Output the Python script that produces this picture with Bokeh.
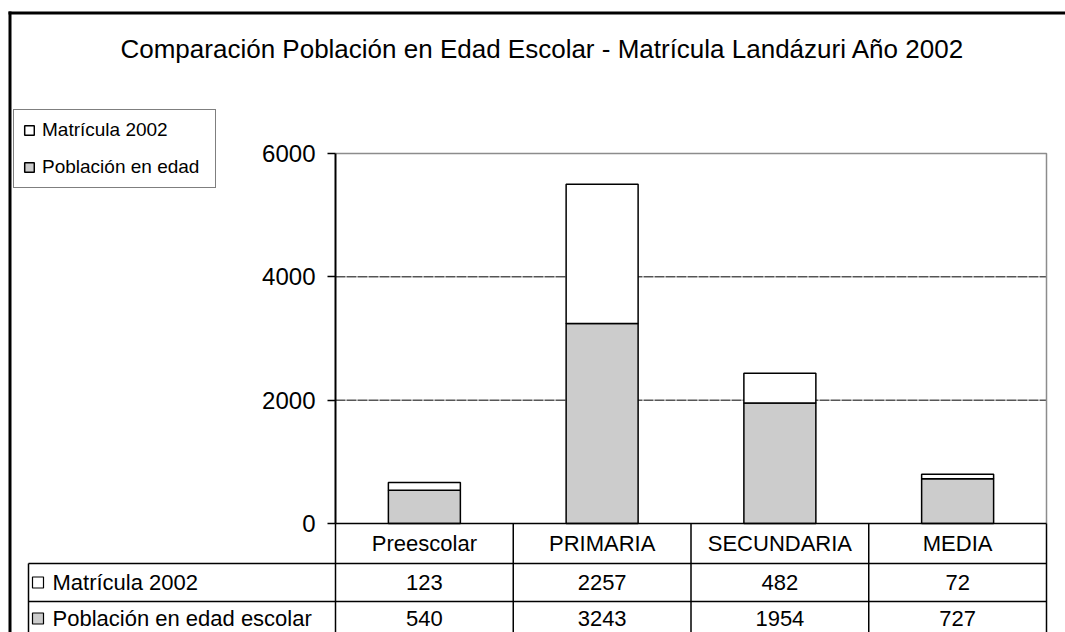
from bokeh.plotting import figure
from bokeh.models import (Range1d, LinearAxis, FixedTicker, Legend, LegendItem,
                          ColumnDataSource)
from bokeh.core.properties import value
from bokeh.embed import file_html
from bokeh.resources import INLINE

# ---------------- data ----------------
title_text = "Comparación Población en Edad Escolar - Matrícula Landázuri Año 2002"
categories = ["Preescolar", "PRIMARIA", "SECUNDARIA", "MEDIA"]
matricula = [123, 2257, 482, 72]
poblacion = [540, 3243, 1954, 727]
row_labels = ["Matrícula 2002", "Población en edad escolar"]
legend_labels = ["Matrícula 2002", "Población en edad"]
y_ticks = [0, 2000, 4000, 6000]
grid_ticks = [2000, 4000]

# ---------------- layout (page pixels) ----------------
FONT = value("Liberation Sans")
W, H = 1065, 632
PX0 = 0
FL, FR, FT, FB = 335, 1046, 153, 523   # chart plot area
ymax = 6000
ncat = len(categories)
xs = (FR - FL) / ncat
ys = (FB - FT) / ymax


def X(px):
    return (px - FL) / xs


def Y(py):
    return (FB - py) / ys


GRAY = "#CCCCCC"

p = figure(width=W, height=H,
           x_range=Range1d(X(PX0), X(PX0 + W)),
           y_range=Range1d(Y(PX0 + H), Y(PX0)),
           output_backend="svg", toolbar_location=None,
           x_axis_location=None, y_axis_location=None,
           min_border=0, title=None, outline_line_color=None,
           background_fill_color="white", border_fill_color="white")
p.grid.visible = False

# outer chart-area border (left and top visible)
p.segment(x0=[X(9.5), X(8)], x1=[X(9.5), X(PX0 + W)],
          y0=[Y(11), Y(12.5)], y1=[Y(PX0 + H), Y(12.5)],
          line_color="black", line_width=3)

# title
p.text(x=[X(542)], y=[Y(48)], text=[title_text], text_font=FONT,
       text_font_size="26px", text_align="center", text_baseline="middle",
       text_color="black")

# gridlines
p.segment(x0=[0] * len(grid_ticks), x1=[ncat] * len(grid_ticks), y0=grid_ticks, y1=grid_ticks,
          line_color="black", line_width=1, line_dash="10 1")
# plot area border (top + right, gray)
p.line(x=[0, ncat, ncat], y=[ymax, ymax, 0], line_color="#8C8C8C", line_width=1.5)

# bars
cx = [i + 0.5 for i in range(ncat)]
totals = [a + b for a, b in zip(poblacion, matricula)]
src = ColumnDataSource(dict(x=cx, cat=categories, mat=matricula, pob=poblacion, tot=totals))
r_pob = p.vbar(x="x", width=0.405, bottom=0, top="pob", source=src,
               fill_color=GRAY, line_color="black", line_width=1.5)
r_mat = p.vbar(x="x", width=0.405, bottom="pob", top="tot", source=src,
               fill_color="white", line_color="black", line_width=1.5)

# y axis
yax = LinearAxis(fixed_location=0, bounds=(0, ymax), ticker=FixedTicker(ticks=y_ticks),
                 axis_line_color="black", axis_line_width=2,
                 major_tick_line_color="black", major_tick_line_width=1.5,
                 major_tick_out=8, major_tick_in=0, minor_tick_out=0, minor_tick_in=0,
                 major_label_text_font_size="24px", major_label_text_font="Liberation Sans",
                 major_label_text_color="black", major_label_standoff=12)
p.add_layout(yax, "left")

# ---------------- data table ----------------
row_y = [Y(543), Y(582), Y(618)]
line_y1 = Y(563)
line_y2 = Y(601)
bottom = Y(PX0 + H)
tl = X(28)
hx0 = [0, tl, tl]
hx1 = [ncat, ncat, ncat]
hy = [0, line_y1, line_y2]
p.segment(x0=hx0, x1=hx1, y0=hy, y1=hy, line_color="black", line_width=1.5)
vx = list(range(ncat + 1))
p.segment(x0=vx, x1=vx, y0=[0] * len(vx), y1=[bottom] * len(vx), line_color="black", line_width=1.5)
p.segment(x0=[tl], x1=[tl], y0=[line_y1], y1=[bottom], line_color="black", line_width=1.5)

p.text(x=cx, y=[row_y[0]] * ncat, text=categories, text_font=FONT, text_font_size="22px",
       text_align="center", text_baseline="middle", text_color="black")
p.text(x=cx, y=[row_y[1]] * ncat, text=[str(v) for v in matricula], text_font=FONT,
       text_font_size="22px", text_align="center", text_baseline="middle", text_color="black")
p.text(x=cx, y=[row_y[2]] * ncat, text=[str(v) for v in poblacion], text_font=FONT,
       text_font_size="22px", text_align="center", text_baseline="middle", text_color="black")

p.scatter(x=[X(37.5)] * 2, y=row_y[1:], marker="square", size=11,
          fill_color=["white", GRAY], line_color="black", line_width=1.2)
p.text(x=[X(52)] * 2, y=row_y[1:], text=row_labels, text_font=FONT, text_font_size="22px",
       text_align="left", text_baseline="middle", text_color="black")

# legend
legend = Legend(items=[LegendItem(label=legend_labels[0], renderers=[r_mat]),
                       LegendItem(label=legend_labels[1], renderers=[r_pob])],
                location=(13, H - 188), orientation="vertical",
                border_line_color="black", border_line_width=1.5,
                background_fill_color="white", background_fill_alpha=1.0,
                label_text_font="Liberation Sans", label_text_font_size="19px",
                label_text_color="black", glyph_width=12, glyph_height=12,
                label_standoff=7, padding=9, spacing=15, margin=0,
                label_height=20, label_width=164)
p.add_layout(legend)

open("out.html", "w").write(file_html(p, INLINE))
